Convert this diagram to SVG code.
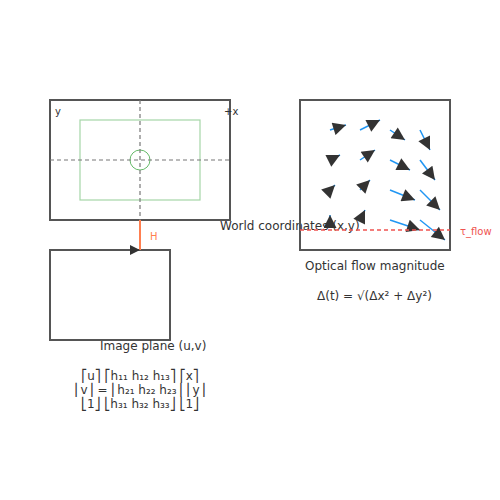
<svg xmlns="http://www.w3.org/2000/svg" width="500" height="500" viewBox="0 0 500 500">
<style>
.box{fill:none;stroke:#555;stroke-width:2}
.t{font-family:"DejaVu Sans",sans-serif;font-size:12px;fill:#333}
.s{font-family:"DejaVu Sans",sans-serif;font-size:10px}
.dash{stroke:#777;stroke-width:1.2;stroke-dasharray:4,3}
.flow{stroke:#2196f3;stroke-width:1.5;marker-end:url(#ah)}
</style>
<defs>
<marker id="ah" viewBox="0 0 10 10" refX="10" refY="5" markerWidth="16" markerHeight="13" markerUnits="userSpaceOnUse" orient="auto"><path d="M0,0L10,5L0,10z" fill="#333"/></marker>
<marker id="ah0" viewBox="0 0 10 10" refX="10" refY="5" markerWidth="15" markerHeight="10" markerUnits="userSpaceOnUse" orient="0"><path d="M0,0L10,5L0,10z" fill="#333"/></marker>
</defs>
<g id="world">
<rect class="box" x="50" y="100" width="180" height="120"/>
<rect x="80" y="120" width="120" height="80" fill="none" stroke="#a5d6a7" stroke-width="1.2"/>
<circle cx="140" cy="160" r="10" fill="none" stroke="#66bb6a" stroke-width="1"/>
<line class="dash" x1="140" y1="100" x2="140" y2="220"/>
<line class="dash" x1="50" y1="160" x2="230" y2="160"/>
<text class="s" x="55" y="115" fill="#333">y</text>
<text class="s" x="224" y="115" fill="#333">+x</text>
<text class="t" x="220" y="230">World coordinates (x,y)</text>
</g>
<g id="image">
<rect class="box" x="50" y="250" width="120" height="90"/>
<text class="t" x="100" y="350">Image plane (u,v)</text>
</g>
<g id="connectors">
<line x1="140" y1="220" x2="140" y2="250" stroke="#ff7f50" stroke-width="2" marker-end="url(#ah0)"/>
<text class="s" x="150" y="240" fill="#ff7f50">H</text>
</g>
<g id="flowbox">
<rect class="box" x="300" y="100" width="150" height="150"/>
<line class="flow" x1="330" y1="130" x2="346" y2="125"/>
<line class="flow" x1="360" y1="130" x2="380" y2="120"/>
<line class="flow" x1="390" y1="130" x2="405" y2="140"/>
<line class="flow" x1="420" y1="130" x2="430" y2="150"/>
<line class="flow" x1="330" y1="160" x2="340" y2="155"/>
<line class="flow" x1="360" y1="160" x2="375" y2="150"/>
<line class="flow" x1="390" y1="160" x2="410" y2="170"/>
<line class="flow" x1="420" y1="160" x2="435" y2="180"/>
<line class="flow" x1="330" y1="190" x2="335" y2="185"/>
<line class="flow" x1="360" y1="190" x2="370" y2="180"/>
<line class="flow" x1="390" y1="190" x2="415" y2="200"/>
<line class="flow" x1="420" y1="190" x2="440" y2="210"/>
<line class="flow" x1="330" y1="220" x2="330" y2="215"/>
<line class="flow" x1="360" y1="220" x2="365" y2="210"/>
<line class="flow" x1="390" y1="220" x2="420" y2="230"/>
<line class="flow" x1="420" y1="220" x2="445" y2="240"/>
<line x1="300" y1="230" x2="450" y2="230" stroke="#ef5350" stroke-width="1.5" stroke-dasharray="4,3"/>
<text class="s" x="460" y="235" fill="#ef5350">τ_flow</text>
<text class="t" x="305" y="270">Optical flow magnitude</text>
<text class="t" x="317" y="300">Δ(t) = √(Δx² + Δy²)</text>
</g>
<g id="matrix">
<text class="t" x="140" y="380" text-anchor="middle">⎡u⎤ ⎡h₁₁ h₁₂ h₁₃⎤ ⎡x⎤</text>
<text class="t" x="140" y="394" text-anchor="middle">⎢v⎥ = ⎢h₂₁ h₂₂ h₂₃⎥ ⎢y⎥</text>
<text class="t" x="140" y="408" text-anchor="middle">⎣1⎦ ⎣h₃₁ h₃₂ h₃₃⎦ ⎣1⎦</text>
</g>
</svg>
